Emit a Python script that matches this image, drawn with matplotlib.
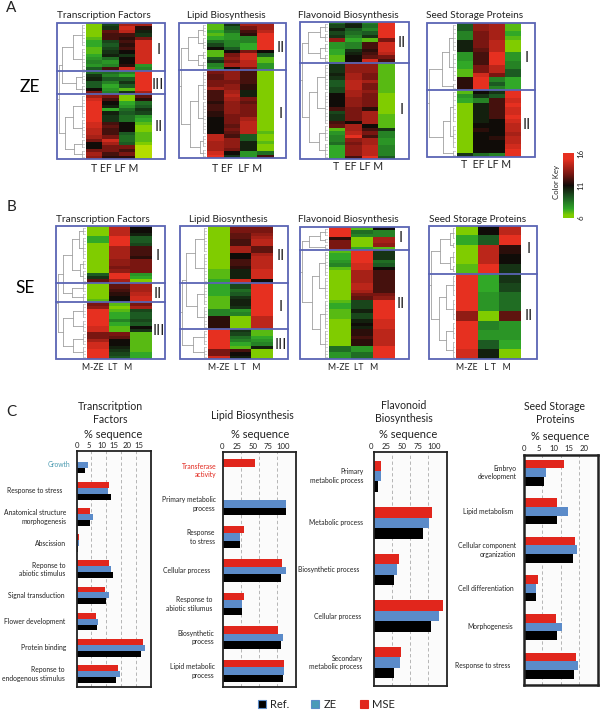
import matplotlib
matplotlib.use("Agg")
import matplotlib.pyplot as plt
from matplotlib.colors import LinearSegmentedColormap
from matplotlib.lines import Line2D
from matplotlib.patches import Rectangle

plt.rcParams['font.family'] = ['Lato', 'DejaVu Sans']

# expression rows for the heat maps, cluster by cluster, top to bottom
A_TF_I = [[6,9.5,14,14],[6,10,15,11.5],[6,12.5,14.5,10.5],[6,12,12,10],[6.5,12,11.5,13],[7,9.5,12,15],[7,9,11.5,15],
          [6.5,9.5,12,15],[6.5,10,11,15],[7,10.5,10,15],[7.5,8.5,11,15],[8,7.5,11,15],[7.5,8,11.5,7.5],[9,12,15,8]]
A_TF_III = [[8.5,8.5,8,15.5],[10,8,7,15.5],[10.5,9,9,15.5],[9,8,10,15.5],[9,7,9,15.5],[11,7.5,6.5,15.5],[13,8,10,14]]
A_TF_II = [[14,13,6,12.5],[15,12,6,11.5],[15.5,11,7,8.5],[15.5,10.5,7.5,9],[15.5,7,8.5,10],[15.5,10.5,9,9.5],[15.5,10,8.5,7.5],
           [15.5,10,8.5,7],[15,12,11,6.5],[15,12.5,11,6],[14.5,12,11,6],[14.5,12,9,6.5],[14,13,8.5,6.5],[13,15,8.5,6.5],
           [11,14,9,6],[11,13,13,5.5],[13,13,12,5.5],[14,12,13,5.5],[13.5,11.5,11.5,5.5]]

A_LIPID_II = [[6.5,10,14,14],[6.5,9,13,14],[7,8.5,12,14.5],[6.5,7.5,11.5,15.5],[7,7.5,8,15.5],[8.5,8,8,15.5],[9.5,8,7,15.5],
              [11,9,7,15.5],[6.5,11,13,11],[6.5,13,15,9],[9,13.5,15,6.5],[10,13,14.5,6.5],[8,14,14.5,7.5],[7.5,11,13,7.5]]
A_LIPID_I = [[13,13.5,12,6],[12.5,13.5,12,6],[12.5,13.5,12,6],[13,13,12,6],[13,13.5,11.5,6],[14,13.5,11.5,6],[12,14,10.5,6],
             [12,14.5,10.5,6],[12,14,13,6],[11.5,13.5,12.5,6],[12,13.5,13,6],[12,13.5,13,6],[11.5,13.5,13,6],[11.5,13,13,6],
             [11,13,14,6],[11,13,14.5,6],[11,12.5,14.5,6],[11,13,14.5,6],[11,12.5,14.5,6.5],[14.5,12,9,6],[14.5,13.5,9,6],
             [14,13.5,10.5,6.5],[14,13.5,10.5,6],[14,13,10.5,6],[15,11,7.5,8.5],[15.5,10,7.5,12]]

A_FLAV_II = [[8.5,10,8,15.5],[9.5,10.5,8.5,15.5],[10.5,9,8,15.5],[9.5,8.5,9,15.5],[10,8,10,15.5],[13.5,7,6.5,13],[7.5,8,12,15],
             [7.5,8,12,15],[7,10,11.5,15],[7,10.5,12,14.5],[6.5,11,12.5,13],[6.5,11,15,12]]
A_FLAV_I = [[10,13.5,13.5,6.5],[10,13.5,13.5,6.5],[10,13.5,13.5,6.5],[10.5,14,13,6.5],[10,14,13,6.5],[9,14.5,14,6.5],[9,14.5,13,6.5],
            [9.5,14.5,13,6.5],[9.5,14,13.5,6.5],[11,14,13,6],[11,13.5,13,6],[11,13.5,13,6],[11,13.5,13,6],[12,13,11.5,6],
            [9.5,13,14,6],[10,13,14,6.5],[10,13,14,6.5],[12,11,14,6.5],[12.5,14,11,6.5],[6.5,14,12,10],[7.5,14.5,13,8],
            [8,15.5,12,8],[8,13.5,14,7.5],[8.5,13,14,7.5],[7,13.5,14.5,8],[7,13.5,14.5,8],[7,13.5,14.5,8],[7,12,15.5,9]]

A_SEED_I = [[9,13.5,14,6.5],[9,13.5,14,6.5],[8,13,14,7],[8,13,14,6.5],[10.5,13,14.5,6],[10.5,13,14.5,6],[10.5,12.5,14.5,6],
            [7.5,12,15.5,7.5],[7.5,12,15.5,7.5],[7,12,15.5,8],[7,13,14.5,8],[6.5,13,14.5,9],[6.5,15,13,9],[11.5,15.5,8,7],
            [11.5,15.5,9,7],[11.5,15.5,8,7]]
A_SEED_II = [[6.5,11,10,15.5],[7.5,10,9,15.5],[7,8,12,15],[6,10.5,12,15.5],[6,10.5,12,15],[6,10.5,12,15],[6,10.5,12,15.5],
             [6,10.5,11,15],[6,11,11,14.5],[6,11.5,11,14.5],[6,11,11,14],[6,11,11.5,14.5],[6,11,11,14.5],[6,11,11,15],
             [6,11,11,15.5],[10,8.5,8,15.5]]

B_TF_I = [[6,14.5,11],[6,14.5,11],[6,14.5,10.5],[7,15.5,9],[7,15.5,9],[6,15.5,9.5],[6,14,12],[6,14,12],[6,14,12],[6,14,11.5],
          [6,13.5,13],[6,13.5,13],[6,13,13],[6,13.5,13],[9,15.5,7.5],[10,15.5,7],[12.5,14,6]]
B_TF_II = [[6,12.5,14],[6,12.5,14],[6,12,14],[6,11.5,14.5],[6,11,15],[6.5,11,15]]
B_TF_III = [[13,6.5,13],[13.5,6,14],[15.5,6.5,9.5],[15.5,7,9],[15.5,7,9],[15.5,8,9.5],[15.5,7,9],[15,6.5,11],[15,6.5,10],
            [13,13,6.5],[13,12.5,6.5],[14,11,6.5],[15,11,6.5],[15,10.5,6.5],[15.5,10,6.5],[15.5,9.5,7],[15.5,9,7]]

B_LIPID_II = [[6,13,13],[6,13,13],[6,12.5,13.5],[6,12.5,14],[6,12,14.5],[6,12,14.5],[6,14,12.5],[6,14,12.5],[6,11,14],
              [6,11,14.5],[6,12,14.5],[6,12,14.5],[6,11.5,14.5],[6.5,10.5,15],[6.5,10.5,15],[6.5,10.5,15],[7,15,11]]
B_LIPID_I = [[7,9.5,15.5],[7,9.5,15.5],[7,8.5,15.5],[7,9,15.5],[6.5,10,15.5],[6.5,10.5,15.5],[6.5,10.5,15.5],[6.5,10,15.5],
             [8,7.5,15.5],[8,8,15.5],[11.5,6,14.5],[11.5,6,14.5],[11.5,6,14.5],[11.5,6,14.5]]
B_LIPID_III = [[15.5,10,6.5],[15.5,9.5,6.5],[15.5,8.5,7],[15.5,8,7.5],[15.5,7,8],[15.5,6.5,10.5],[13,12,6],[13,11,6],[15,10.5,6]]

B_FLAV_I = [[15.5,6.5,11],[15.5,8.5,8],[15.5,8,8],[11.5,6,14],[13,6,14],[13,6,13.5],[13,7,6.5]]
B_FLAV_II = [[6.5,15.5,10],[7,15.5,10],[7,15.5,10],[7.5,15.5,8.5],[8,15,9],[6.5,15,11],[6,14,12],[6,14,12],[6,14,12],[6,14,12],
             [6,14.5,12],[6,14.5,12],[6,14,12],[6,13,13],[6,12.5,13.5],[6.5,9.5,15.5],[7,9.5,15.5],[7,9.5,15.5],[6.5,10.5,15.5],
             [6.5,9.5,15.5],[6.5,9.5,15.5],[6,10.5,15],[6,11,15],[6,10.5,15],[6,11.5,14.5],[6,11.5,14.5],[6,12,14.5],[6,11.5,14.5],
             [6,11.5,14.5],[8.5,7.5,15.5],[8.5,7.5,15.5],[7.5,8.5,15.5],[7.5,8.5,15.5]]

B_SEED_I = [[6,11,14.5],[6,11,14.5],[7,9,15.5],[7,9,15.5],[6,14.5,11.5],[6,14.5,11.5],[6,14.5,11],[6,14.5,11],[6.5,15.5,10],[6.5,15.5,10]]
B_SEED_II = [[15.5,7,10],[15.5,7,10],[15.5,7,9.5],[15.5,7,9.5],[15.5,7.5,8.5],[15.5,7.5,8.5],[15.5,7.5,8.5],[15.5,7.5,8.5],
             [13.5,6,12.5],[13.5,6,12.5],[15.5,8,7.5],[15.5,8,7.5],[15.5,7.5,7.5],[15.5,7.5,7.5],[15.5,9,7],[15.5,9,7],
             [15,10.5,6],[15,10.5,6]]

KEY_VALUES = [16, 15, 14, 13, 12, 11, 10, 9, 8, 7, 6]

# dendrograms: (height, child, child), a plain int is a bunch of leaf rows
A_TF_TREE = (0.95, (0.85, (0.45, 7, 7), (0.35, 4, 3)), (0.75, (0.45, 7, 6), (0.4, 3, 3)))
A_LIPID_TREE = (0.95, (0.7, (0.3, 4, 4), (0.3, 3, 3)), (0.6, (0.3, 9, 10), (0.25, 4, 3)))
A_FLAV_TREE = (0.95, (0.75, (0.3, 3, 3), (0.3, 3, 3)), (0.7, (0.4, 8, 10), (0.35, 5, 5)))
A_SEED_TREE = (0.95, (0.5, (0.25, 7, 7), 2), (0.45, (0.2, 8, 6), 2))
B_TF_TREE = (0.95, (0.8, (0.5, (0.25, 3, 7), (0.2, 3, 4)), (0.5, 3, 3)), (0.8, (0.45, 5, 4), (0.45, 4, 4)))
B_LIPID_TREE = (0.95, (0.8, (0.45, 8, 9), (0.4, 7, 7)), (0.55, 5, 4))
B_FLAV_TREE = (0.95, (0.7, (0.3, 3, 2), 2), (0.6, (0.35, 8, 7), (0.3, 9, 9)))
B_SEED_TREE = (0.95, (0.6, (0.2, 3, 2), (0.2, 3, 2)), (0.65, (0.35, 5, 5), (0.35, 4, 4)))

# bar charts, gaps are None
TF_LABELS = ["Growth", "Response to stress", "Anatomical structure\nmorphogenesis", "Abscission", "Reponse to\nabiotic stimulus",
             "Signal transduction", "Flower development", "Protein binding", "Reponse to\nendogenous stimulus"]
TF_MSE = [None, 10.8, 4.6, 0.8, 10.9, 9.7, 6.6, 22.3, 14.0]
TF_ZE = [3.8, 10.6, 5.5, 0.9, 11.6, 10.8, 7.3, 22.9, 14.6]
TF_REF = [2.8, 11.6, 4.6, 0.6, 12.3, 9.8, 6.8, 21.5, 13.4]

LIPID_LABELS = ["Transferase\nactivity", "Primary metabolic\nprocess", "Response\nto stress", "Cellular process",
                "Response to\nabiotic stilumus", "Biosynthetic\nprocess", "Lipid metabolic\nprocess"]
LIPID_MSE = [44.5, None, 29.5, 81.8, 29.5, 76.4, 84.0]
LIPID_ZE = [None, 86.4, 24.5, 86.4, 26.4, 82.3, 84.5]
LIPID_REF = [None, 86.8, 23.6, 80.5, 26.8, 80.5, 83.2]

FLAV_LABELS = ["Primary\nmetabolic process", "Metabolic process", "Biosynthetic process", "Cellular process",
               "Secondary\nmetabolic process"]
FLAV_MSE = [9.6, 79.8, 34.4, 95.0, 37.6]
FLAV_ZE = [10.5, 76.0, 32.6, 90.4, 36.7]
FLAV_REF = [5.5, 67.9, 28.4, 78.4, 27.5]

SEED_LABELS = ["Embryo\ndevelopment", "Lipid metabolism", "Cellular component\norganization", "Cell differentiation",
               "Morphogenesis", "Response to stress"]
SEED_MSE = [11.0, 9.1, 13.8, 3.9, 8.8, 14.0]
SEED_ZE = [6.0, 12.0, 14.4, 3.4, 10.4, 14.6]
SEED_REF = [5.4, 9.0, 13.4, 3.4, 8.9, 13.6]

TF_TICKS = ["0", "5", "10", "15", "20", "15"]
LIPID_TICKS = ["0", "25", "50", "75", "100"]
SEED_TICKS = ["0", "5", "10", "15", "20"]

RED = "#e1261c"
BLUE = "#5b8bc9"
BOX = "#5a64b4"
TXT = "#222222"

W, H = 600, 711
fig = plt.figure(figsize=(W / 100, H / 100), dpi=100)
cmap = LinearSegmentedColormap.from_list("key", [(0, "#b4dc00"), (0.5 / 10.5, "#80cc00"), (1.5 / 10.5, "#30a828"),
                                                 (3.5 / 10.5, "#1c5a22"), (5.5 / 10.5, "#100c08"),
                                                 (7.5 / 10.5, "#7a1712"), (10 / 10.5, "#e63020"), (1, "#e63020")])


def px_axes(x0, y0, x1, y1):
    return fig.add_axes([x0 / W, 1 - y1 / H, (x1 - x0) / W, (y1 - y0) / H])


def label(x, y, s, size=7, **kw):
    kw.setdefault("ha", "center")
    kw.setdefault("va", "center")
    kw.setdefault("color", TXT)
    fig.text(x / W, 1 - y / H, s, fontsize=size, **kw)


def draw_tree(ax, node, row):
    # returns y position, height and the next free row
    if isinstance(node, int):
        y0, y1 = row + 0.5, row + node - 0.5
        ax.plot([0.1, 0.1], [y0, y1], color="#b0b0b0", lw=0.6)
        for i in range(node):
            ax.plot([0, 0.1], [row + i + 0.5] * 2, color="#b0b0b0", lw=0.4)
        return (y0 + y1) / 2, 0.1, row + node
    h, a, b = node
    ya, ha, row = draw_tree(ax, a, row)
    yb, hb, row = draw_tree(ax, b, row)
    ax.plot([ha, h], [ya, ya], color="#a0a0a0", lw=0.6)
    ax.plot([hb, h], [yb, yb], color="#a0a0a0", lw=0.6)
    ax.plot([h, h], [ya, yb], color="#a0a0a0", lw=0.6)
    return (ya + yb) / 2, h, row


def cols_size(cols):
    return 7.6 if cols.startswith("T") else 6.2


def heatmap(clusters, tree, box, heat_x, y0, y1, title, title_x, title_y, cols, cols_x, cols_y, romans):
    rows = [r for c in clusters for r in c]
    ax = px_axes(heat_x[0], y0, heat_x[1], y1)
    ax.imshow(rows, cmap=cmap, vmin=5.5, vmax=16, aspect="auto", interpolation="nearest")
    ax.axis("off")
    dax = px_axes(box[0] + 1, y0, heat_x[0] - 1, y1)
    yc, h, n = draw_tree(dax, tree, 0)
    assert n == len(rows), title
    dax.plot([h, 1], [yc, yc], color="#a0a0a0", lw=0.6)
    dax.set_xlim(1, 0)
    dax.set_ylim(len(rows), 0)
    dax.axis("off")
    fig.add_artist(Rectangle((box[0] / W, 1 - y1 / H), (box[1] - box[0]) / W, (y1 - y0) / H, fill=False,
                             ec=BOX, lw=1.3, transform=fig.transFigure))
    done = 0
    for c in clusters[:-1]:
        done += len(c)
        y = y0 + (y1 - y0) * done / len(rows)
        fig.add_artist(Line2D([box[0] / W, box[1] / W], [1 - y / H] * 2, color=BOX, lw=1.3))
    label(title_x, title_y, title, size=7.2)
    label(cols_x, cols_y, cols, size=cols_size(cols))
    for s, x, y in romans:
        label(x, y, s, size=10.5)


def barchart(box, xmax, grid, mse, ze, ref, names, lab_x, ylim, tick_labels, tick_off, tick_step,
             title, title_x, title_y, seq_x, seq_y, frame_lw=1.3):
    ax = px_axes(*box)
    ax.set_facecolor("#fbfbfb")
    for g in grid:
        ax.axvline(g, color="#aaaaaa", lw=0.6, ls=(0, (4, 3)), zorder=1)
    for i in range(len(names)):
        for vals, off, col in ((mse, -0.224, RED), (ze, 0, BLUE), (ref, 0.224, "black")):
            if vals[i] is not None:
                ax.barh(i + off, vals[i], height=0.224, color=col, zorder=2)
    ax.set_xlim(0, xmax)
    ax.set_ylim(*ylim)
    ax.set_xticks([])
    ax.set_yticks([])
    for s in ax.spines.values():
        s.set_linewidth(frame_lw)
        s.set_color("#222222")
    for i, t in enumerate(tick_labels):
        ax.text(tick_off + i * tick_step, 1.01, t, transform=ax.get_xaxis_transform(), ha="center", va="bottom",
                fontsize=5.6, color=TXT, clip_on=False)
    for i, n in enumerate(names):
        col = {"Growth": "#4a9ab0", "Transferase\nactivity": RED}.get(n, TXT)
        ax.annotate(n, (0, i), xytext=(-lab_x[i] * 0.72, 0), xycoords=("data", "data"), textcoords="offset points",
                    ha="right", va="center", fontsize=4.9, color=col, linespacing=1.25, annotation_clip=False)
    label(title_x, title_y, title, size=7.6, linespacing=1.25)
    label(seq_x, seq_y, "% sequence", size=8)


heatmap([A_TF_I, A_TF_III, A_TF_II], A_TF_TREE, (57, 165), (86, 152), 23, 159, "Transcription Factors", 104, 15,
        "T EF LF M", 115, 168, [("I", 159, 50), ("III", 158, 85), ("II", 159, 127)])
heatmap([A_LIPID_II, A_LIPID_I], A_LIPID_TREE, (179, 286), (207, 273), 23, 158, "Lipid Biosynthesis", 226, 16,
        "T EF  LF M", 237, 168, [("II", 281, 48), ("I", 281, 114)])
heatmap([A_FLAV_II, A_FLAV_I], A_FLAV_TREE, (300, 409), (329, 394), 22, 159, "Flavonoid Biosynthesis", 348, 16,
        "T  EF LF M", 358, 167, [("II", 402, 43), ("I", 402, 110)])
heatmap([A_SEED_I, A_SEED_II], A_SEED_TREE, (427, 535), (457, 521), 23, 157, "Seed Storage Proteins", 475, 16,
        "T  EF LF M", 486, 165, [("I", 527, 58), ("II", 527, 125)])

heatmap([B_TF_I, B_TF_II, B_TF_III], B_TF_TREE, (56, 165), (87, 152), 226, 359, "Transcription Factors", 103, 219,
        "M-ZE  LT   M", 107, 367, [("I", 158, 256), ("II", 158, 294), ("III", 159, 331)])
heatmap([B_LIPID_II, B_LIPID_I, B_LIPID_III], B_LIPID_TREE, (180, 288), (208, 273), 226, 359, "Lipid Biosynthesis", 228, 219,
        "M-ZE  L T   M", 234, 367, [("II", 281, 256), ("I", 281, 307), ("III", 281, 345)])
heatmap([B_FLAV_I, B_FLAV_II], B_FLAV_TREE, (300, 409), (329, 395), 227, 359, "Flavonoid Biosynthesis", 348, 219,
        "M-ZE  LT   M", 353, 367, [("I", 401, 238), ("II", 401, 304)])
heatmap([B_SEED_I, B_SEED_II], B_SEED_TREE, (429, 537), (456, 521), 226, 359, "Seed Storage Proteins", 478, 219,
        "M-ZE   L T   M", 483, 367, [("I", 529, 249), ("II", 529, 316)])

# colour key
kax = px_axes(563, 153, 574, 218)
kax.imshow([[v] for v in KEY_VALUES], cmap=cmap, vmin=5.5, vmax=16, aspect="auto", interpolation="bilinear")
kax.axis("off")
label(556, 182, "Color Key", size=5.6, rotation=90)
for s, y in (("16", 153), ("11", 185), ("6", 218)):
    label(581, y, s, size=5.8, rotation=90)

label(11, 8, "A", size=11)
label(11, 207, "B", size=11)
label(11, 412, "C", size=11)
label(30, 87, "ZE", size=12.5, color="black")
label(25, 288, "SE", size=12.5, color="black")

# offsets from the bar origin to the right end of each name, in pixels
barchart((76.5, 451, 151, 687), 25, [5, 10, 15, 20], TF_MSE, TF_ZE, TF_REF, TF_LABELS,
         [6, 14, 10, 11, 11, 12, 11, 10, 12], (8.5, -0.52), TF_TICKS, 0.1, 4.2,
         "Transcritption\nFactors", 110, 413, 113, 435)
barchart((222.5, 452, 295.5, 687), 100, [25, 50, 75], LIPID_MSE, LIPID_ZE, LIPID_REF, LIPID_LABELS,
         [6, 7, 8, 12, 10, 8, 8], (6.48, -0.55), LIPID_TICKS, -0.9, 21.1,
         "Lipid Biosynthesis", 252, 415, 260, 435)
barchart((373.5, 452, 446.5, 686), 100, [25, 50, 75], FLAV_MSE, FLAV_ZE, FLAV_REF, FLAV_LABELS,
         [10, 11, 14, 12, 11], (4.5, -0.52), LIPID_TICKS, -3.7, 21.6,
         "Flavonoid\nBiosynthesis", 404, 412, 408, 435)
barchart((523.5, 454.5, 598, 684.5), 20, [5, 10, 15], SEED_MSE, SEED_ZE, SEED_REF, SEED_LABELS,
         [7, 10, 7, 10, 10, 13], (5.49, -0.47), SEED_TICKS, 0, 4.1,
         "Seed Storage\nProteins", 555, 413, 560, 436, frame_lw=1.8)

# legend
for x, fc, ec, name, tx in ((258, "black", BLUE, "Ref.", 270), (311, "#4a9ab8", BLUE, "ZE", 324), (360, RED, RED, "MSE", 372)):
    fig.add_artist(Rectangle((x / W, 1 - 708 / H), 8 / W, 8 / H, fc=fc, ec=ec, lw=0.8, transform=fig.transFigure))
    label(tx, 704, name, size=8, ha="left")

fig.savefig("out.png", dpi=100)
